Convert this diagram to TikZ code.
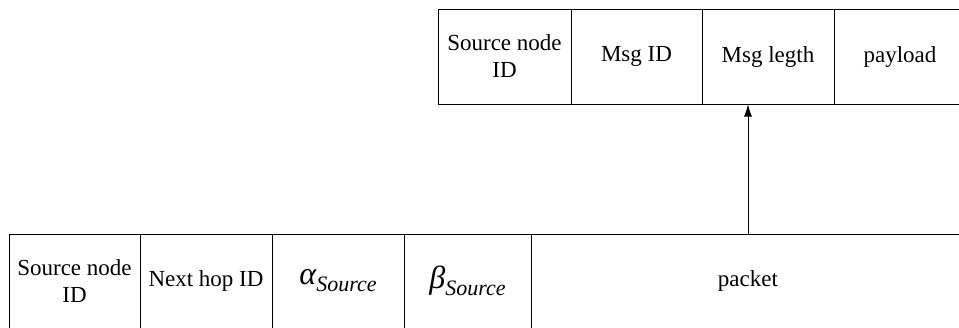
\documentclass[tikz,border=0pt]{standalone}
\usepackage{fontspec}
\setmainfont{Liberation Serif}
\usetikzlibrary{arrows.meta}
\newcommand{\fieldsub}[2]{{\itshape\fontsize{32}{32}\selectfont #1}\raisebox{-7pt}{\fontsize{22}{22}\selectfont\itshape #2}}
\begin{document}
\begin{tikzpicture}[x=1pt,y=-1pt,
  field/.style={draw, line width=1pt, rectangle, inner sep=0pt,
    align=center, font=\fontsize{23}{27}\selectfont},
  toprow/.style={field, minimum height=95pt},
  botrow/.style={field, minimum height=94pt},
  link/.style={line width=0.8pt, -{Latex[length=12pt,width=8pt]}}]
\useasboundingbox (0,0) rectangle (959,327);
\clip (0,0) rectangle (959,327);
% message header fields
\node[toprow, minimum width=133pt] (tsrc) at (504.5,56.5) {Source node\\ID};
\node[toprow, minimum width=131pt] (tmsg) at (636.5,56.5) {Msg ID};
\node[toprow, minimum width=132pt] (tlen) at (768,56.5) {Msg legth};
\node[toprow, minimum width=132pt] (tpay) at (900,56.5) {payload};
% routing frame fields
\node[botrow, minimum width=131pt] (bsrc) at (74.5,281) {Source node\\ID};
\node[botrow, minimum width=132pt] (bnext) at (206,281) {Next hop ID};
\node[botrow, minimum width=132pt] (balpha) at (338,281) {\fieldsub{α}{Source}};
\node[botrow, minimum width=127pt] (bbeta) at (467.5,281) {\fieldsub{β}{Source}};
\node[botrow, minimum width=434pt] (bpkt) at (748,281) {packet};
% the packet carries the message
\draw[link] (bpkt.north) -- (bpkt.north |- tlen.south);
\end{tikzpicture}
\end{document}
